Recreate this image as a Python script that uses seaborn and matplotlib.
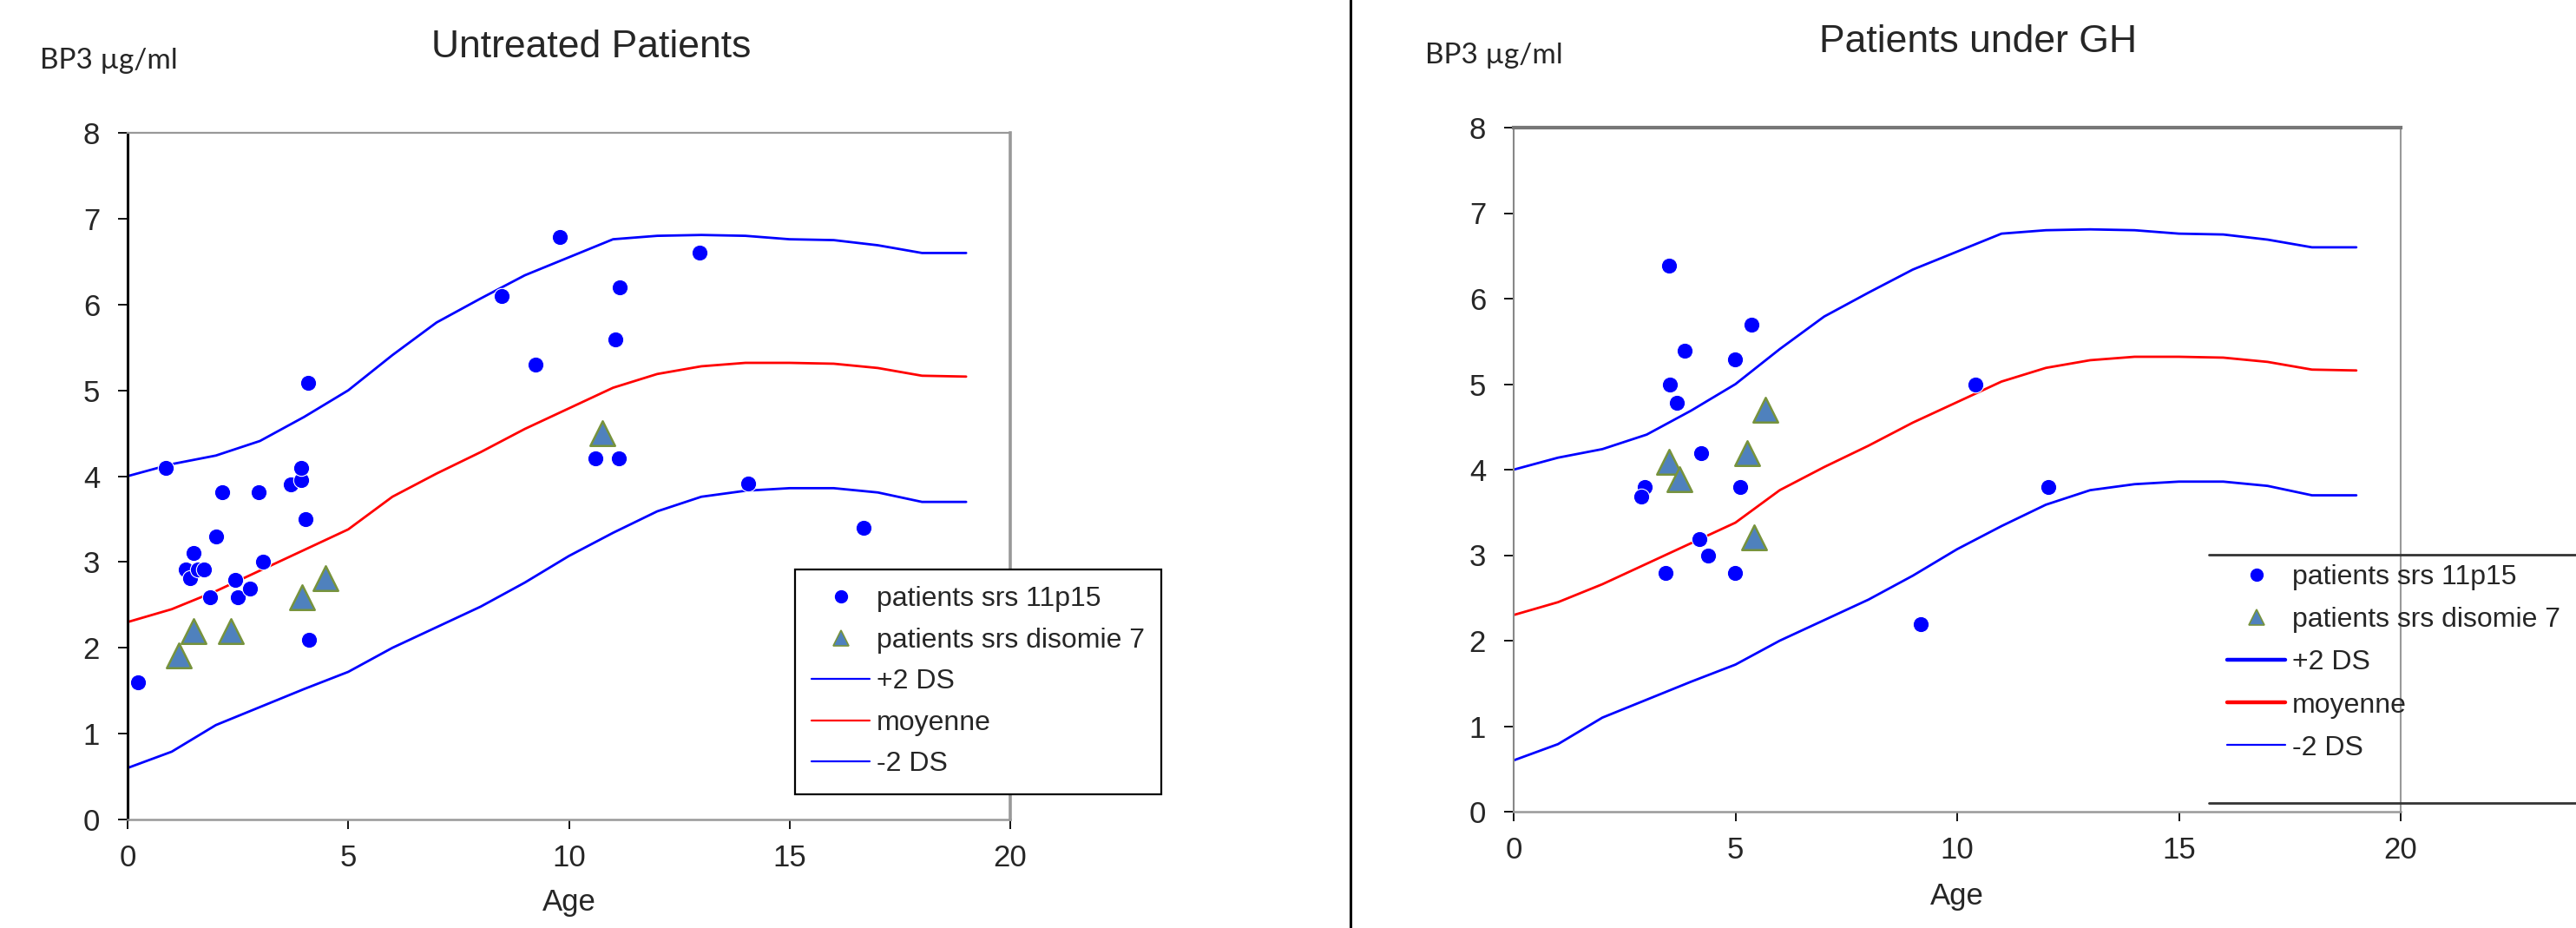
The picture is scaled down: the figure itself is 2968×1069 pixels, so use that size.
# BP3 reference curves vs SRS patients, untreated and under GH

import matplotlib
matplotlib.use("Agg")
import matplotlib.pyplot as plt
from matplotlib.lines import Line2D
import seaborn as sns
import pandas as pd

# ================================ Data ================================
ref_age = list(range(20))
plus_2ds = [4.00, 4.14, 4.24, 4.41, 4.69, 5.00, 5.41, 5.79, 6.07, 6.34,
            6.55, 6.76, 6.80, 6.81, 6.80, 6.76, 6.75, 6.69, 6.60, 6.60]
moyenne = [2.30, 2.45, 2.66, 2.90, 3.14, 3.38, 3.76, 4.03, 4.28, 4.55,
           4.79, 5.03, 5.19, 5.28, 5.32, 5.32, 5.31, 5.26, 5.17, 5.16]
minus_2ds = [0.60, 0.79, 1.10, 1.31, 1.52, 1.72, 2.00, 2.24, 2.48, 2.76,
             3.07, 3.34, 3.59, 3.76, 3.83, 3.86, 3.86, 3.81, 3.70, 3.70]

# untreated patients
untreated_11p15_age = [0.23, 0.86, 1.31, 1.41, 1.49, 1.60, 1.74, 1.86, 2.00, 2.15,
                       2.43, 2.50, 2.78, 2.97, 3.07, 3.70, 3.93, 3.93, 4.03, 4.09,
                       4.11, 8.47, 9.24, 9.80, 10.59, 11.06, 11.13, 11.15, 12.95,
                       14.07, 16.67]
untreated_11p15_bp3 = [1.60, 4.10, 2.91, 2.81, 3.10, 2.91, 2.91, 2.59, 3.30, 3.81,
                       2.79, 2.59, 2.69, 3.81, 3.00, 3.90, 3.95, 4.10, 3.50, 5.09,
                       2.09, 6.10, 5.30, 6.79, 4.21, 5.59, 4.21, 6.20, 6.60,
                       3.91, 3.40]
untreated_d7_age = [1.17, 1.49, 2.35, 3.95, 4.48, 10.76]
untreated_d7_bp3 = [1.91, 2.19, 2.19, 2.59, 2.81, 4.50]

# patients under GH
gh_11p15_age = [3.50, 5.36, 3.85, 4.99, 3.53, 3.67, 4.22, 2.95, 2.88, 5.10,
                4.18, 4.38, 3.43, 4.99, 9.17, 10.42, 12.06]
gh_11p15_bp3 = [6.39, 5.70, 5.39, 5.29, 4.99, 4.78, 4.19, 3.80, 3.69, 3.80,
                3.19, 2.99, 2.79, 2.79, 2.19, 4.99, 3.80]
gh_d7_age = [3.50, 3.74, 5.27, 5.68, 5.43]
gh_d7_bp3 = [4.09, 3.89, 4.19, 4.70, 3.21]

# ================================ Styling ================================
sns.set_style("white")
plt.rcParams['font.family'] = ['Liberation Sans', 'DejaVu Sans']

BLUE = '#0000FF'
RED = '#FF0000'
TRI_FACE = '#4F81BD'
TRI_EDGE = '#77933C'

ref = pd.DataFrame({'age': ref_age * 3,
                    'bp3': plus_2ds + moyenne + minus_2ds,
                    'curve': ['+2 DS'] * 20 + ['moyenne'] * 20 + ['-2 DS'] * 20})
palette = {'+2 DS': BLUE, 'moyenne': RED, '-2 DS': BLUE}

W, H = 2968, 1069
fig = plt.figure(figsize=(W / 100, H / 100), dpi=100)
ax1 = fig.add_axes([147 / W, 1 - 944 / H, (1164 - 147) / W, (944 - 153) / H])
ax2 = fig.add_axes([1744 / W, 1 - 935 / H, (2766 - 1744) / W, (935 - 147) / H])


def draw_panel(ax, age_a, bp3_a, age_b, bp3_b):
    sns.lineplot(data=ref, x='age', y='bp3', hue='curve', palette=palette,
                 linewidth=2, legend=False, sort=False, estimator=None, ax=ax, zorder=2)
    sns.scatterplot(x=age_a, y=bp3_a, marker='o', s=175, color=BLUE,
                    edgecolor='white', linewidth=0.8, ax=ax, zorder=3)
    sns.scatterplot(x=age_b, y=bp3_b, marker='^', s=420, color=TRI_FACE,
                    edgecolor=TRI_EDGE, linewidth=1.8, ax=ax, zorder=4)
    ax.set_xlim(0, 20)
    ax.set_ylim(0, 8)
    ax.set_xticks(range(0, 21, 5))
    ax.set_yticks(range(0, 9))
    ax.set_ylabel('')
    ax.tick_params(axis='both', which='major', labelsize=25, direction='out',
                   length=8, width=1.3, color='black', left=True, bottom=True)
    ax.tick_params(axis='y', pad=15)
    ax.tick_params(axis='x', pad=12)
    ax.set_xlabel('Age', fontsize=25)


draw_panel(ax1, untreated_11p15_age, untreated_11p15_bp3, untreated_d7_age, untreated_d7_bp3)
draw_panel(ax2, gh_11p15_age, gh_11p15_bp3, gh_d7_age, gh_d7_bp3)

# spines
ax1.spines['left'].set_color('black')
ax1.spines['left'].set_linewidth(2.2)
ax1.spines['bottom'].set_color('#999999')
ax1.spines['bottom'].set_linewidth(1.8)
ax1.spines['top'].set_color('#999999')
ax1.spines['top'].set_linewidth(1.6)
ax1.spines['right'].set_color('#999999')
ax1.spines['right'].set_linewidth(2.6)
ax2.spines['left'].set_color('#888888')
ax2.spines['left'].set_linewidth(1.5)
ax2.spines['bottom'].set_color('#999999')
ax2.spines['bottom'].set_linewidth(1.8)
ax2.spines['top'].set_color('#777777')
ax2.spines['top'].set_linewidth(3)
ax2.spines['right'].set_color('#999999')
ax2.spines['right'].set_linewidth(1.5)

ax1.xaxis.set_label_coords(0.5, -0.121)
ax1.xaxis.label.set_va('center')
ax2.xaxis.set_label_coords(0.5, -0.124)
ax2.xaxis.label.set_va('center')

# titles and unit labels
fig.text(681 / W, 1 - 55 / H, 'Untreated Patients', ha='center', va='center', fontsize=32)
fig.text(2279 / W, 1 - 48 / H, 'Patients under GH', ha='center', va='center', fontsize=32)
fig.text(46 / W, 1 - 70 / H, 'BP3 µg/ml', ha='left', va='center', fontsize=24,
         family=['Lato', 'DejaVu Sans'])
fig.text(1642 / W, 1 - 64 / H, 'BP3 µg/ml', ha='left', va='center', fontsize=24,
         family=['Lato', 'DejaVu Sans'])

# divider between the two charts
fig.add_artist(Line2D([1556 / W, 1556 / W], [0, 1], transform=fig.transFigure,
                      color='black', linewidth=2.2))

labels = ['patients srs 11p15', 'patients srs disomie 7', '+2 DS', 'moyenne', '-2 DS']


def legend_handles(thick):
    return [Line2D([], [], linestyle='none', marker='o', markersize=10, color=BLUE),
            Line2D([], [], linestyle='none', marker='^', markersize=13,
                   markerfacecolor=TRI_FACE, markeredgecolor=TRI_EDGE, markeredgewidth=1.2),
            Line2D([], [], color=BLUE, linewidth=3.2 if thick else 1.6),
            Line2D([], [], color=RED, linewidth=3.2 if thick else 1.6),
            Line2D([], [], color=BLUE, linewidth=1.6)]


leg1 = ax1.legend(handles=legend_handles(False), labels=labels, loc='upper left',
                  bbox_to_anchor=(916 / W, 1 - 656 / H), bbox_transform=fig.transFigure,
                  borderaxespad=0, fontsize=23, handlelength=2.1, handletextpad=0.25,
                  labelspacing=0.55, borderpad=0.6, fancybox=False, framealpha=1)
leg1.get_frame().set_edgecolor('black')
leg1.get_frame().set_linewidth(1.6)

leg2 = ax2.legend(handles=legend_handles(True), labels=labels, loc='upper left',
                  bbox_to_anchor=(2566 / W, 1 - 650 / H), bbox_transform=fig.transFigure,
                  borderaxespad=0, fontsize=23, handlelength=2.1, handletextpad=0.25,
                  labelspacing=0.6, borderpad=0, frameon=False)
for yy in (639, 925):
    fig.add_artist(Line2D([2545 / W, 1], [1 - yy / H, 1 - yy / H], transform=fig.transFigure,
                          color='#333333', linewidth=2))

fig.savefig("out.png", dpi=100)
